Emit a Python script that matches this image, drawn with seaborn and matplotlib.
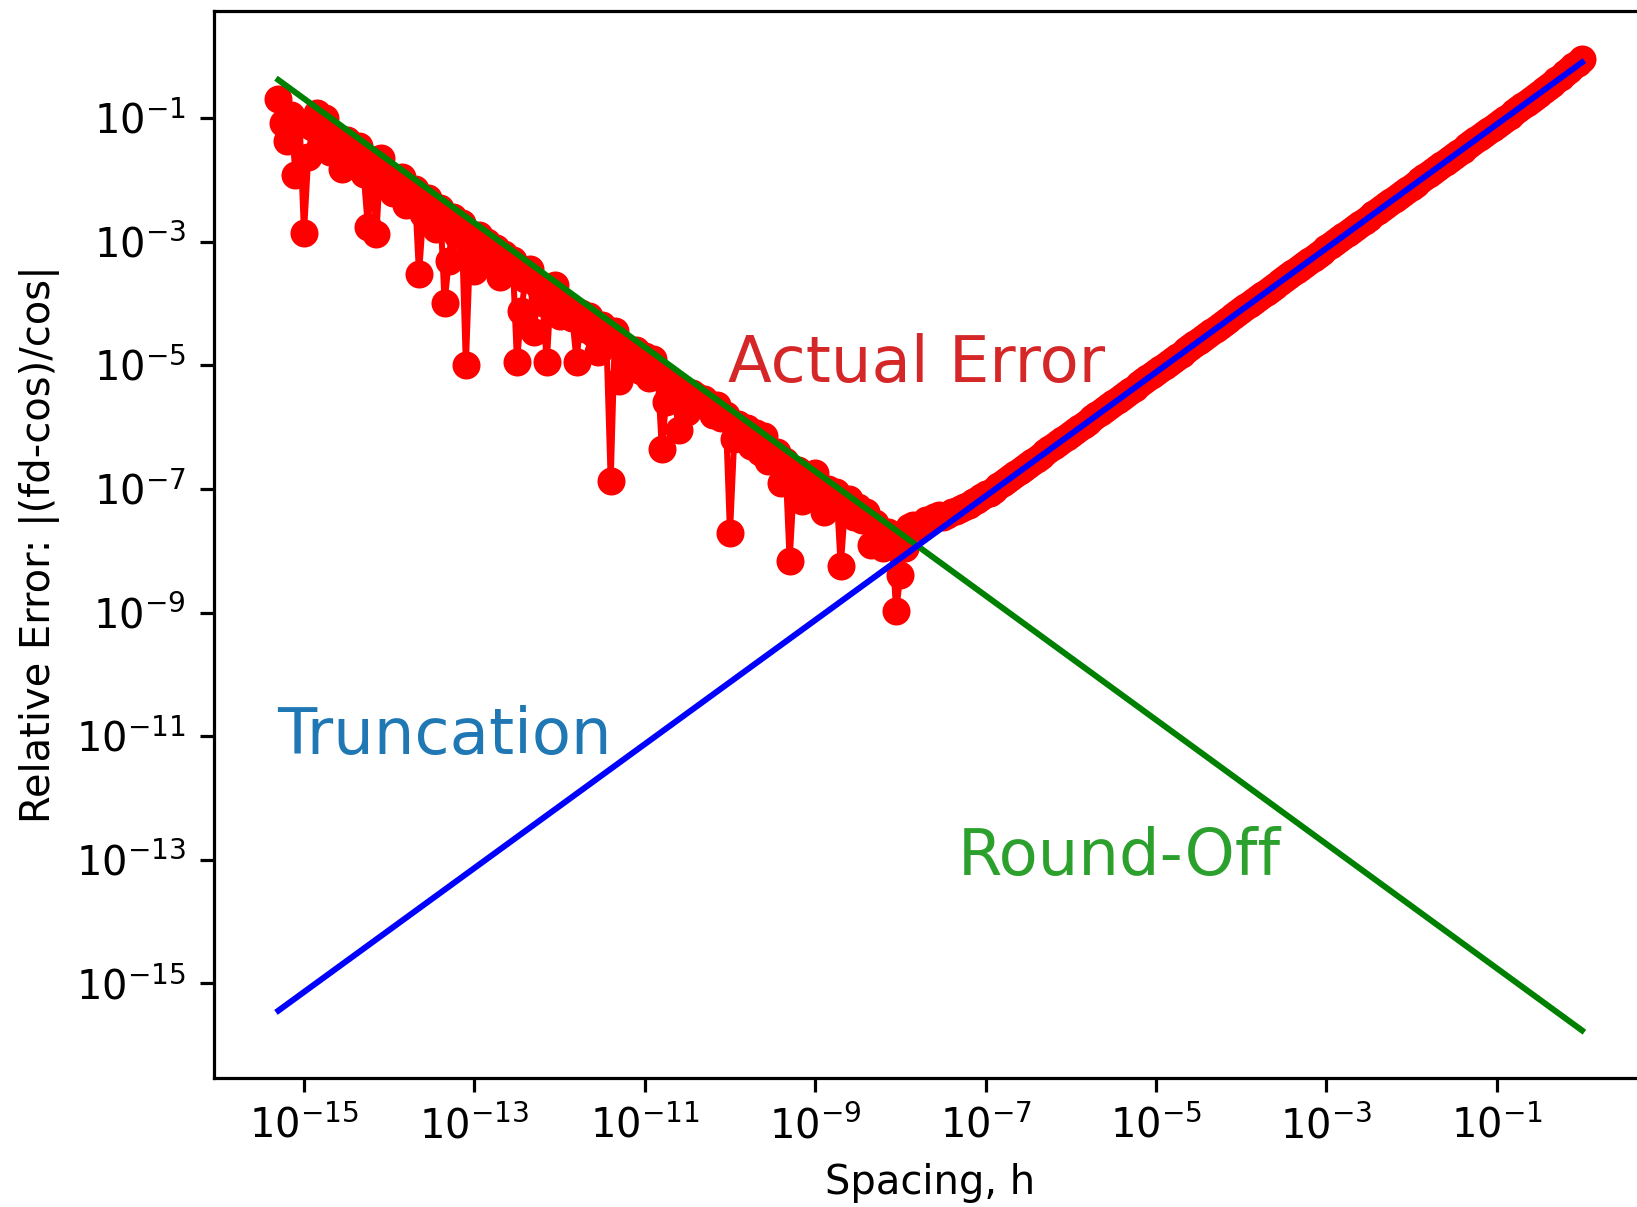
import numpy as np
import matplotlib
matplotlib.use("Agg")
import matplotlib.pyplot as plt
import seaborn as sns

# spacing grid: log10(h) from -15.3 to 0 in steps of 0.05
h_exp_start, h_exp_stop = -15.3, 0.0

# log10 of the actual relative error
# noisy round-off part (log10 h = -15.30 ... -7.00)
err_exp_noisy = [
    -0.70, -1.08, -1.37, -0.95, -1.93, -1.10, -2.86, -1.63, -1.15, -0.92,
    -1.45, -1.00, -1.55, -1.29, -1.60, -1.83, -1.35, -1.70, -1.45, -1.45,
    -1.90, -2.77, -1.75, -2.88, -1.65, -2.10, -1.93, -2.22, -2.05, -1.95,
    -2.40, -2.30, -2.15, -3.53, -2.55, -2.30, -2.47, -2.80, -2.45, -3.99,
    -3.31, -2.60, -2.90, -2.70, -5.00, -3.10, -3.48, -2.90, -3.30, -3.00,
    -3.31, -3.10, -3.57, -3.20, -3.45, -3.30, -4.95, -4.13, -3.60, -3.45,
    -4.46, -3.70, -3.99, -4.95, -3.75, -3.70, -4.20, -3.99, -4.05, -4.24,
    -4.94, -4.15, -4.41, -4.20, -4.50, -4.78, -4.35, -4.60, -6.88, -4.45,
    -5.26, -4.70, -4.90, -5.05, -4.75, -5.09, -4.85, -5.20, -4.90, -5.10,
    -6.35, -5.59, -5.30, -5.50, -6.05, -5.40, -5.76, -5.45, -5.50, -5.59,
    -5.55, -5.68, -5.80, -5.65, -5.85, -5.80, -7.72, -6.19, -5.95, -6.10,
    -6.02, -6.30, -6.10, -6.40, -6.15, -6.55, -6.52, -6.40, -6.90, -6.55,
    -8.16, -6.95, -6.70, -7.20, -6.80, -7.00, -6.75, -7.10, -7.37, -7.00,
    -7.28, -7.05, -8.25, -7.30, -7.16, -7.45, -7.30, -7.50, -7.37, -7.91,
    -7.55, -7.70, -7.96, -7.70, -7.85, -8.97, -8.40, -7.95, -7.62, -7.59,
    -7.62, -7.60, -7.50, -7.52, -7.45, -7.42, -7.45, -7.42, -7.38, -7.36,
    -7.33, -7.30, -7.26, -7.22, -7.18, -7.13, -7.09,
]
# smooth truncation part (log10 h = -6.95 ... 0.00)
err_exp_smooth = [
    -7.06, -7.01, -6.96, -6.91, -6.86, -6.81, -6.76, -6.71, -6.66, -6.61,
    -6.56, -6.51, -6.46, -6.41, -6.36, -6.31, -6.26, -6.21, -6.16, -6.11,
    -6.06, -6.01, -5.96, -5.91, -5.86, -5.81, -5.76, -5.71, -5.66, -5.61,
    -5.56, -5.51, -5.46, -5.41, -5.36, -5.31, -5.26, -5.21, -5.16, -5.11,
    -5.06, -5.01, -4.96, -4.91, -4.86, -4.81, -4.76, -4.71, -4.66, -4.61,
    -4.56, -4.51, -4.46, -4.41, -4.36, -4.31, -4.26, -4.21, -4.16, -4.11,
    -4.06, -4.01, -3.96, -3.91, -3.86, -3.81, -3.76, -3.71, -3.66, -3.61,
    -3.56, -3.51, -3.46, -3.41, -3.36, -3.31, -3.26, -3.21, -3.16, -3.11,
    -3.06, -3.01, -2.96, -2.91, -2.86, -2.81, -2.76, -2.71, -2.66, -2.61,
    -2.56, -2.51, -2.46, -2.41, -2.36, -2.31, -2.26, -2.21, -2.16, -2.11,
    -2.06, -2.01, -1.96, -1.91, -1.86, -1.81, -1.76, -1.71, -1.66, -1.61,
    -1.56, -1.51, -1.46, -1.41, -1.36, -1.31, -1.26, -1.21, -1.16, -1.11,
    -1.06, -1.01, -0.96, -0.91, -0.86, -0.81, -0.76, -0.71, -0.66, -0.61,
    -0.55, -0.50, -0.45, -0.39, -0.34, -0.28, -0.22, -0.16, -0.11, -0.05,
]

# straight reference lines (end points, log10)
line_h_exp = [-15.3, 0.0]
trunc_exp = [-15.44, -0.10]
round_exp = [-0.385, -15.76]

err_exp = err_exp_noisy + err_exp_smooth
h = 10.0 ** np.linspace(h_exp_start, h_exp_stop, len(err_exp))
err = 10.0 ** np.array(err_exp)
h_line = 10.0 ** np.array(line_h_exp)

W, H, DPI = 1637, 1207, 288
fig = plt.figure(figsize=(W / DPI, H / DPI), dpi=DPI)
# axes box in pixels: left 214, top 11, bottom 1078, right runs past the edge
ax = fig.add_axes([214 / W, (H - 1078) / H, (1647 - 214) / W, (1078 - 11) / H])
ax.set(xscale="log", yscale="log")

sns.lineplot(x=h, y=err, ax=ax, color="r", marker="o", markersize=6,
             markeredgecolor="r", markeredgewidth=1, linewidth=1.5)
sns.lineplot(x=h_line, y=10.0 ** np.array(round_exp), ax=ax, color="g", linewidth=1.5)
sns.lineplot(x=h_line, y=10.0 ** np.array(trunc_exp), ax=ax, color="b", linewidth=1.5)

ax.set_xlim(10 ** -16.056, 10 ** 0.763)
ax.set_ylim(10 ** -16.53, 10 ** 0.731)
ax.set_xticks(10.0 ** np.arange(-15, 0, 2))
ax.set_yticks(10.0 ** np.arange(-15, 0, 2))
ax.xaxis.set_minor_locator(matplotlib.ticker.NullLocator())
ax.yaxis.set_minor_locator(matplotlib.ticker.NullLocator())

ax.text(10 ** -10.02, 10 ** -5.27, "Actual Error", color="tab:red", fontsize=16)
ax.text(10 ** -15.31, 10 ** -11.29, "Truncation", color="tab:blue", fontsize=16)
ax.text(10 ** -7.33, 10 ** -13.25, "Round-Off", color="tab:green", fontsize=16)

ax.set_xlabel("Spacing, h")
ax.set_ylabel("Relative Error: |(fd-cos)/cos|")

fig.savefig("out.png", dpi=DPI)
